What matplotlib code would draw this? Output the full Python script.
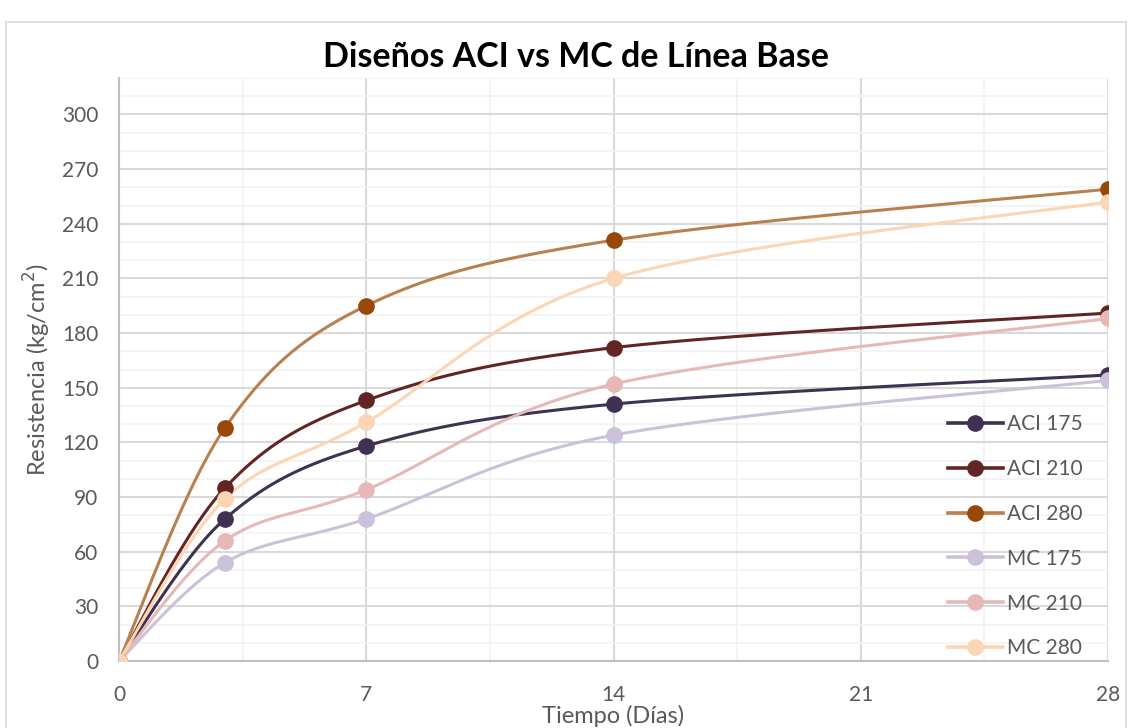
import numpy as np
import matplotlib
matplotlib.use("Agg")
import matplotlib.pyplot as plt
from matplotlib.patches import Rectangle

plt.rcParams['font.family'] = ['Lato', 'DejaVu Sans']

# datos
dias = [0, 3, 7, 14, 28]
series = ["ACI 175", "ACI 210", "ACI 280", "MC 175", "MC 210", "MC 280"]
aci_175 = [0, 78, 118, 141, 157]
aci_210 = [0, 95, 143, 172, 191]
aci_280 = [0, 128, 195, 231, 259]
mc_175 = [0, 54, 78, 124, 154]
mc_210 = [0, 66, 94, 152, 188]
mc_280 = [0, 89, 131, 210, 252]
valores = [aci_175, aci_210, aci_280, mc_175, mc_210, mc_280]

line_colors = ["#3F3151", "#632523", "#B9804F", "#CCC1DA", "#E6B9B8", "#FCD5B5"]
marker_colors = ["#3F3151", "#632523", "#984807", "#CCC1DA", "#E6B9B8", "#FCD5B5"]


def suavizar(x, y, n=40):
    # curva suavizada tipo Excel (Bezier con tangentes Catmull-Rom)
    p = np.column_stack([x, y]).astype(float)
    pts = np.vstack([p[0], p, p[-1]])
    out = []
    t = np.linspace(0, 1, n)[:, None]
    for i in range(1, len(pts) - 2):
        p0, p1, p2, p3 = pts[i - 1], pts[i], pts[i + 1], pts[i + 2]
        c1 = p1 + (p2 - p0) / 6
        c2 = p2 - (p3 - p1) / 6
        seg = ((1 - t) ** 3) * p1 + 3 * ((1 - t) ** 2) * t * c1 + 3 * (1 - t) * t ** 2 * c2 + t ** 3 * p2
        out.append(seg if i == 1 else seg[1:])
    out = np.vstack(out)
    return out[:, 0], out[:, 1]


fig = plt.figure(figsize=(11.33, 7.28), dpi=100)
fig.patches.append(Rectangle((6 / 1133, -0.01), 1120 / 1133, 1 - 22 / 728 + 0.01,
                             transform=fig.transFigure, fill=False,
                             edgecolor="#D9D9D9", linewidth=1.2))

ax = fig.add_axes([119 / 1133, 1 - 661 / 728, (1108 - 119) / 1133, (661 - 78) / 728])

for nombre, vals, lc, mc in zip(series, valores, line_colors, marker_colors):
    xs, ys = suavizar(dias, vals)
    ax.plot(xs, ys, color=lc, linewidth=2.2, solid_capstyle="round", zorder=3)
    ax.plot(dias, vals, linestyle="none", marker="o", markersize=11,
            color=mc, zorder=4)
    ax.plot([], [], color=lc, linewidth=2.6, marker="o", markersize=11,
            markerfacecolor=mc, markeredgecolor=mc, label=nombre)

ax.set_xlim(0, 28)
ax.set_ylim(0, 320)
ax.set_xticks([0, 7, 14, 21, 28])
ax.set_xticks(np.arange(0, 28.1, 3.5), minor=True)
ax.set_yticks(np.arange(0, 301, 30))
ax.set_yticks(np.arange(0, 321, 10), minor=True)
ax.grid(which="major", color="#D9D9D9", linewidth=1.5, zorder=0)
ax.grid(which="minor", color="#F2F2F2", linewidth=1.2, zorder=0)
ax.tick_params(which="both", length=0, labelsize=15, labelcolor="#595959")
ax.tick_params(axis="x", pad=17)
ax.tick_params(axis="y", pad=15)
for s in ["top", "right"]:
    ax.spines[s].set_visible(False)
for s in ["left", "bottom"]:
    ax.spines[s].set_color("#BFBFBF")
    ax.spines[s].set_linewidth(1.5)
ax.set_axisbelow(True)

# el titulo va centrado en el area del grafico, no en el area de trazado
ax.set_title("Diseños ACI vs MC de Línea Base", fontsize=24.5, fontweight="bold",
             color="black", pad=8, x=0.462)
ax.set_xlabel("Tiempo (Días)", fontsize=17, color="#595959")
ax.set_ylabel("Resistencia (kg/cm$^2$)", fontsize=17, color="#595959")
ax.xaxis.label.set_va("center")
ax.yaxis.label.set_va("center")
ax.xaxis.set_label_coords(0.5, -0.094)
ax.yaxis.set_label_coords(-0.083, 0.5)

ax.legend(loc="lower left", bbox_to_anchor=(0.838, 0.0046), frameon=False,
          fontsize=15, labelcolor="#595959", labelspacing=1.19,
          handlelength=2.64, handletextpad=0.2, borderpad=0, borderaxespad=0)

fig.savefig("out.png", dpi=100)
